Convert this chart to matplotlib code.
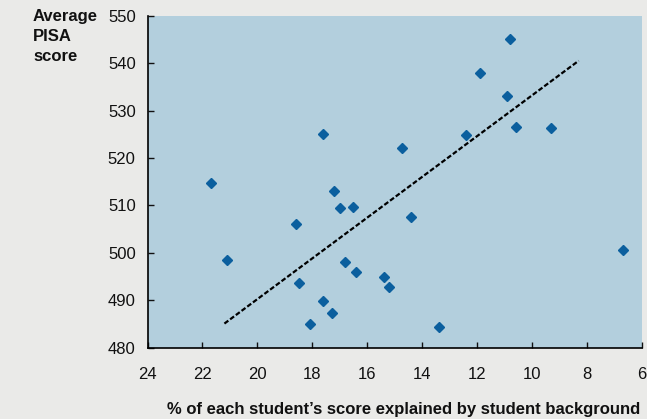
import matplotlib.pyplot as plt

plt.rcParams['font.family'] = ['Liberation Sans', 'DejaVu Sans']

# % of each student's score explained by student background
background = [21.7, 21.1, 18.6, 18.5, 18.1, 17.6, 17.6, 17.3, 17.2, 17.0,
              16.8, 16.5, 16.4, 15.4, 15.2, 14.75, 14.4, 13.4, 12.4, 11.9,
              10.9, 10.8, 10.6, 9.3, 6.7]
# average PISA score
pisa = [514.8, 498.6, 506.0, 493.6, 485.1, 525.1, 489.8, 487.4, 513.0, 509.4,
        498.0, 509.6, 496.0, 495.0, 492.9, 522.1, 507.6, 484.3, 524.8, 537.9,
        533.0, 545.1, 526.6, 526.3, 500.7]

trend_x = [21.2, 8.3]
trend_y = [485.1, 540.5]

xticks = list(range(24, 5, -2))
yticks = list(range(480, 551, 10))

fig = plt.figure(figsize=(6.47, 4.19), dpi=100, facecolor='#eaeae8')
ax = fig.add_axes([0.228, 0.170, 0.764, 0.7925])
ax.set_facecolor('#b3cfdd')

ax.plot(background, pisa, linestyle='none', marker='D', markersize=4.8,
        color='#0b5f9e')
ax.plot(trend_x, trend_y, color='black', linestyle=(0, (2.2, 1)), linewidth=1.6)

ax.set_xlim(24, 6)
ax.set_ylim(480, 550)
ax.set_xticks(xticks)
ax.set_yticks(yticks)
ax.tick_params(direction='in', length=4, width=1, labelsize=12, colors='#111111')
ax.tick_params(axis='x', pad=14)
ax.tick_params(axis='y', pad=8.5)

for s in ['top', 'right']:
    ax.spines[s].set_visible(False)
for s in ['left', 'bottom']:
    ax.spines[s].set_linewidth(1.2)

fig.text(0.051, 0.978, 'Average\nPISA\nscore', fontsize=12, fontweight='bold',
         va='top', ha='left', linespacing=1.4, color='#111111')
fig.text(0.99, 0.013, '% of each student\u2019s score explained by student background',
         fontsize=12, fontweight='bold', ha='right', va='baseline', color='#111111')

fig.savefig('out.png', dpi=100, facecolor=fig.get_facecolor())
